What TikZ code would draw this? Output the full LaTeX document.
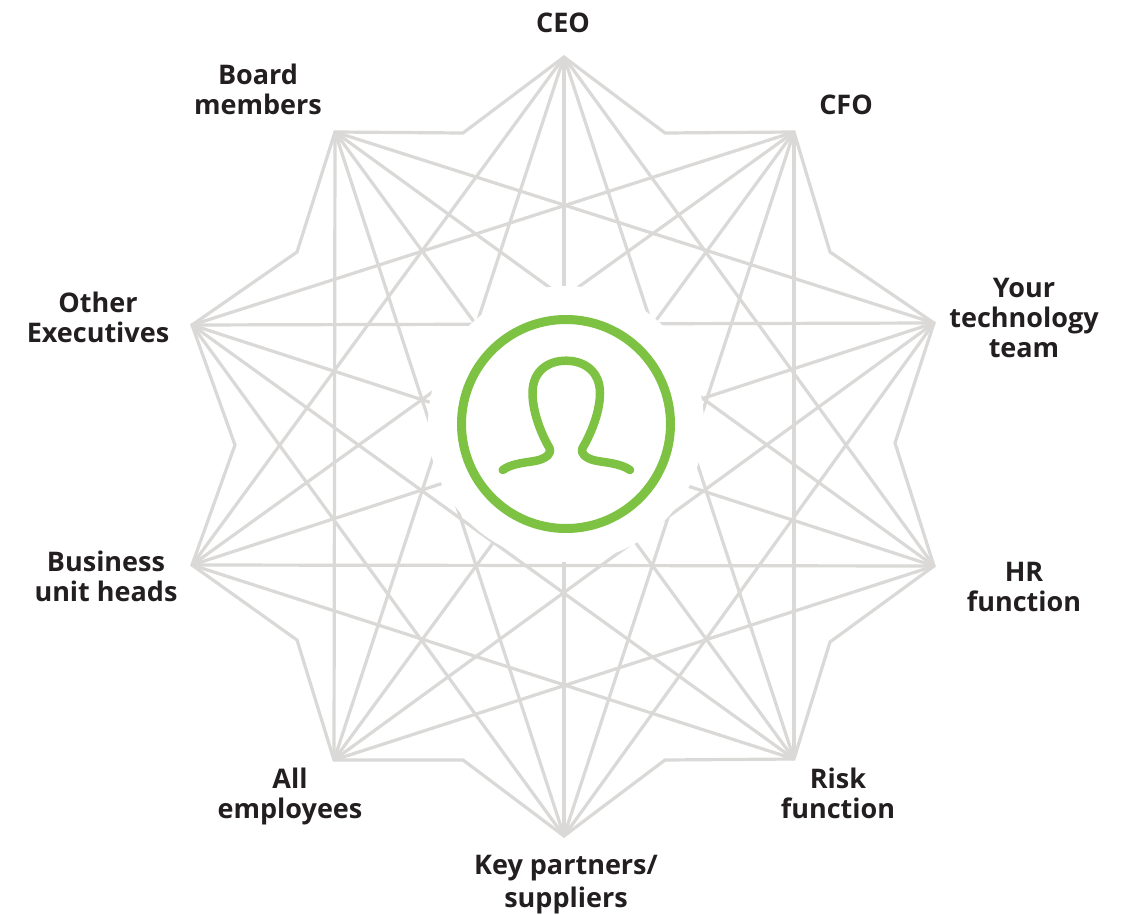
\documentclass[tikz,border=0pt]{standalone}
\usepackage{fontspec}
\setmainfont{Open Sans}
\definecolor{webgrey}{HTML}{DAD9D7}
\definecolor{leaf}{HTML}{7DC242}
\definecolor{ink}{HTML}{231F20}
\tikzset{
  web/.style={draw=webgrey,line width=3.2pt,line join=miter,line cap=butt},
  who/.style={align=center,text=ink,font=\fontsize{27}{30}\selectfont\bfseries,inner sep=0pt},
  icon/.style={draw=leaf,line cap=round,line join=round},
}
\begin{document}
\begin{tikzpicture}[x=1pt,y=-1pt]
\path[use as bounding box,fill=white] (0,0) rectangle (1132,915);
% star tips
\coordinate (p0) at (564,57);
\coordinate (p1) at (794,132);
\coordinate (p2) at (934,323);
\coordinate (p3) at (934,566);
\coordinate (p4) at (794,759);
\coordinate (p5) at (564,836);
\coordinate (p6) at (334,760);
\coordinate (p7) at (192,565);
\coordinate (p8) at (192,325);
\coordinate (p9) at (335,132);
% notches
\coordinate (n0) at (665,133);
\coordinate (n1) at (830,252);
\coordinate (n2) at (895,443);
\coordinate (n3) at (830,642);
\coordinate (n4) at (665,760);
\coordinate (n5) at (463,760);
\coordinate (n6) at (297,640);
\coordinate (n7) at (235,445);
\coordinate (n8) at (297,252);
\coordinate (n9) at (463,133);
% outline
\draw[web] (p0)--(n0)--(p1)--(n1)--(p2)--(n2)--(p3)--(n3)--(p4)--(n4)--(p5)--(n5)--(p6)--(n6)--(p7)--(n7)--(p8)--(n8)--(p9)--(n9)--cycle;
% chords: every tip to the tips 3 and 4 places along, plus the five diameters
\foreach \i in {0,...,9}{
  \foreach \s in {3,4}{
    \pgfmathtruncatemacro{\j}{mod(\i+\s,10)}
    \draw[web] (p\i)--(p\j);
  }
}
\foreach \i in {0,...,4}{
  \pgfmathtruncatemacro{\j}{\i+5}
  \draw[web] (p\i)--(p\j);
}
% centre mask and icon
\node[circle,fill=white,minimum size=276pt,inner sep=0pt] (mask) at (566,424) {};
\node[circle,draw=leaf,line width=9pt,fill=white,minimum size=209pt,inner sep=0pt,outer sep=0pt] (ring) at (566,424) {};
\draw[icon,line width=8.5pt] (502.7,470)
  .. controls (512,463) and (528,462.5) .. (537,460.5)
  .. controls (546,458.5) and (552.5,453) .. (549.5,448)
  .. controls (544,439) and (532.5,415) .. (532.5,393)
  .. controls (532.5,372) and (547,360.7) .. (566,360.7)
  .. controls (585,360.7) and (600,372) .. (600,393)
  .. controls (600,415) and (588,439) .. (582.5,448)
  .. controls (579.5,453) and (586,458.5) .. (595,460.5)
  .. controls (604,462.5) and (620,463) .. (630,470);
% labels
\node[who] (ceo) at (563,23) {CEO};
\node[who] (cfo) at (846,105) {CFO};
\node[who] (tech) at (1024,318) {Your\\technology\\team};
\node[who] (hr) at (1024,587) {HR\\function};
\node[who] (risk) at (838,793) {Risk\\function};
\node[who] (key) at (566,885) {Key partners/\\[3pt]suppliers};
\node[who] (all) at (290,796) {All\\employees};
\node[who] (bu) at (106,576) {Business\\unit heads};
\node[who] (other) at (98,317) {Other\\Executives};
\node[who] (board) at (258,89) {Board\\members};
\end{tikzpicture}
\end{document}
